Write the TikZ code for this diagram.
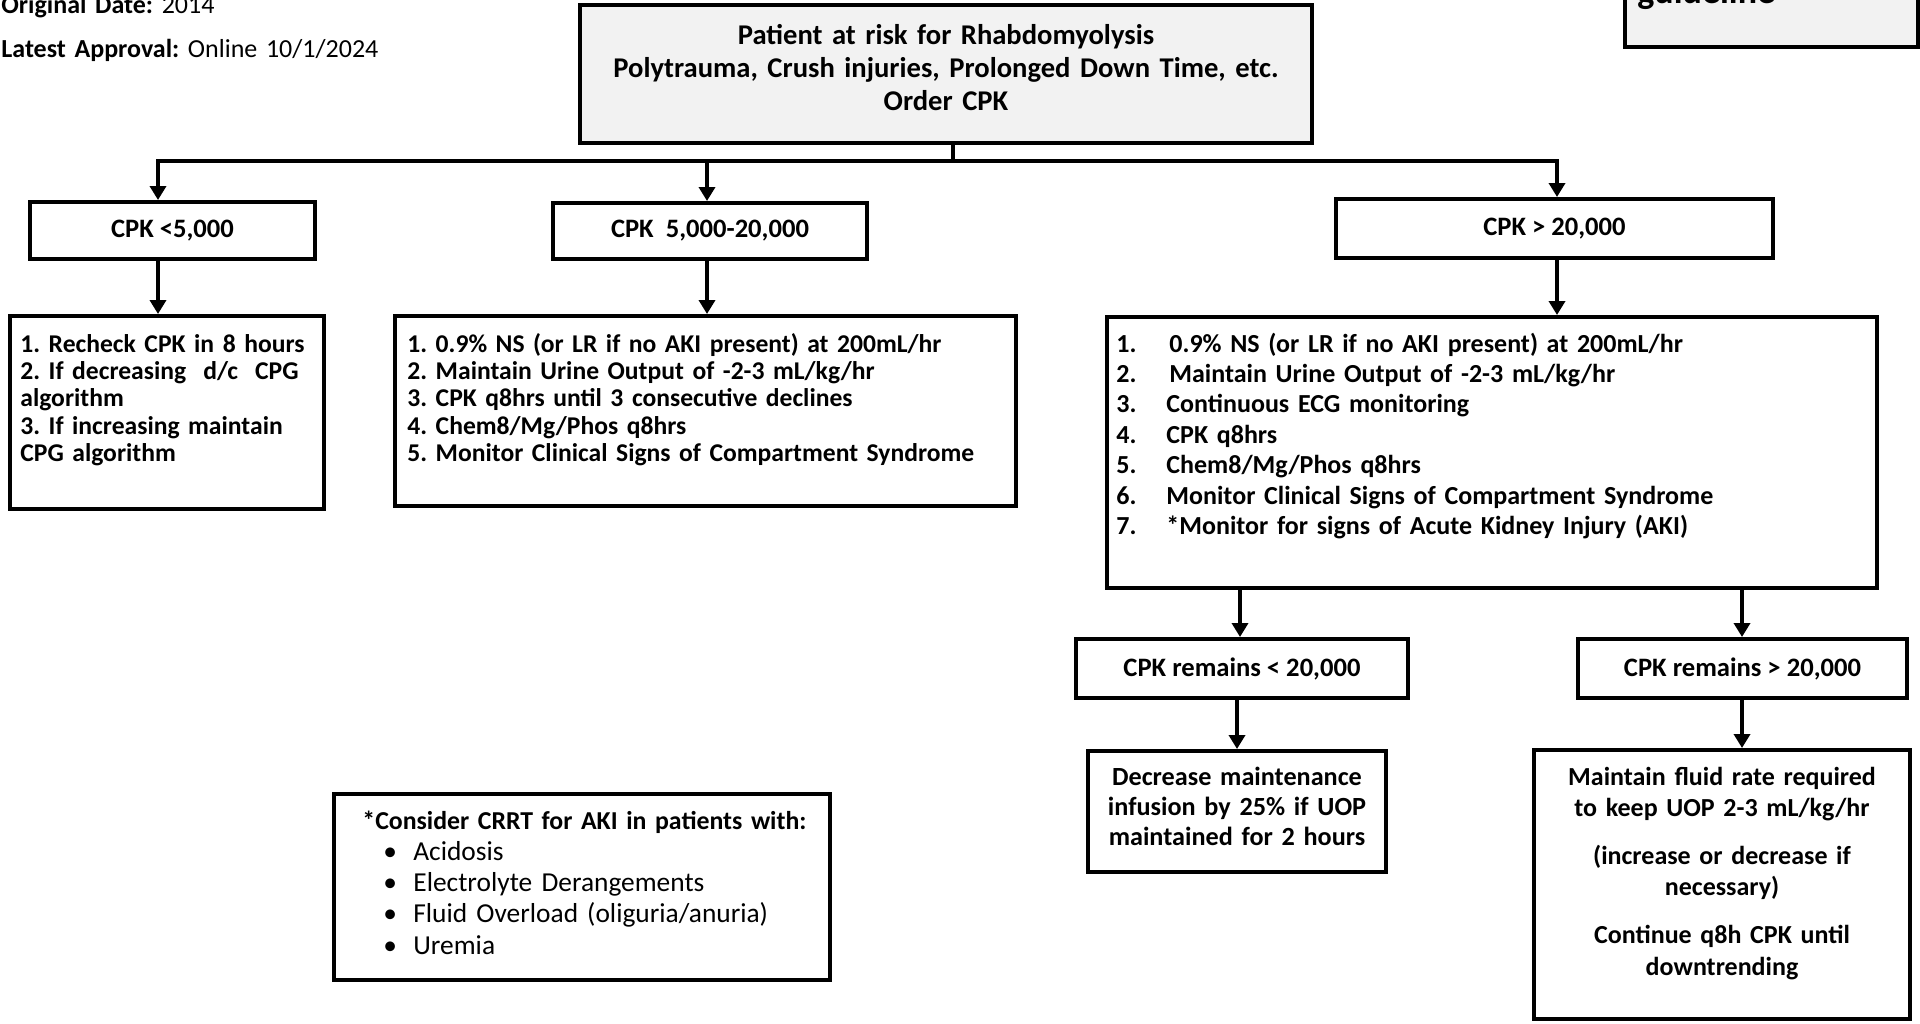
\documentclass[tikz,border=0pt]{standalone}
\usepackage{fontspec}
\setmainfont{Carlito}
\usetikzlibrary{arrows.meta,fit,positioning}
\definecolor{boxgray}{HTML}{F2F2F2}
\frenchspacing

\begin{document}
\begin{tikzpicture}[x=0.5pt, y=-0.5pt, >={Triangle[width=8pt,length=7pt]},
		box/.style={draw, line width=2pt, inner sep=0pt, fill=white},
		graybox/.style={box, fill=boxgray},
		level/.style={box, font=\fontsize{13.3}{15}\selectfont\bfseries},
		body/.style={font=\fontsize{12.8}{13.7}\selectfont\bfseries},
		ltext/.style={inner sep=0pt, anchor=base west, align=left, text width=#1},
		ctext/.style={inner sep=0pt, anchor=base, align=center, text width=#1},
		link/.style={line width=2pt},
		arr/.style={link, ->}]
	\useasboundingbox (0,0) rectangle (1920,1023);
	% ---------------- header ----------------
	\node[ltext=240pt, font=\fontsize{13}{14}\selectfont] (orig) at (1,13) {\textbf{Original Date:} 2014};
	\node[ltext=240pt, font=\fontsize{13}{14}\selectfont] (appr) at (1,57) {\textbf{Latest Approval:} Online 10/1/2024};
	\node[graybox, fit={(1625,-20) (1918,47)}] (guide) {};
	\node[ltext=140pt, font=\fontsize{18}{20}\selectfont\bfseries] (guidetxt) at (1637,3) {guideline};
	% ---------------- entry ----------------
	\node[graybox, fit={(580,5) (1312,143)}] (entry) {};
	\node[ctext=362pt, font=\fontsize{14.3}{16.5}\selectfont\bfseries] (entrytxt) at (946,44)
		{Patient at risk for Rhabdomyolysis\\Polytrauma, Crush injuries, Prolonged Down Time, etc.\\Order CPK};
	% ---------------- CPK levels ----------------
	\node[level, minimum width=142.5pt, minimum height=28.5pt] (low) at (172.5,230.5) {CPK <5,000};
	\node[level, minimum width=157pt, minimum height=28pt] (mid) at (710,231) {CPK~ 5,000-20,000};
	\node[level, minimum width=218.5pt, minimum height=29.5pt] (high) at (1554.5,228.5) {CPK > 20,000};
	% ---------------- orders ----------------
	\node[box, fit={(10,316) (324,509)}] (lowbox) {};
	\node[ltext=160pt, body] (lowtxt) at (20,352)
		{1. Recheck CPK in 8 hours\\2. If decreasing~ d/c~ CPG\\algorithm\\3. If increasing maintain\\CPG algorithm};
	\node[box, fit={(395,316) (1016,506)}] (midbox) {};
	\node[ltext=340pt, body] (midtxt) at (407,352)
		{1. 0.9\% NS (or LR if no AKI present) at 200mL/hr\\2. Maintain Urine Output of -2-3 mL/kg/hr\\3. CPK q8hrs until 3 consecutive declines\\4. Chem8/Mg/Phos q8hrs\\5. Monitor Clinical Signs of Compartment Syndrome};
	\node[box, fit={(1107,317) (1877,588)}] (highbox) {};
	\node[ltext=380pt, font=\fontsize{13}{15.2}\selectfont\bfseries] (hightxt) at (1116,352)
		{\makebox[25pt][l]{1.}\hspace{1.5pt}0.9\% NS (or LR if no AKI present) at 200mL/hr\\
		 \makebox[25pt][l]{2.}\hspace{1.5pt}Maintain Urine Output of -2-3 mL/kg/hr\\
		 \makebox[25pt][l]{3.}Continuous ECG monitoring\\
		 \makebox[25pt][l]{4.}CPK q8hrs\\
		 \makebox[25pt][l]{5.}Chem8/Mg/Phos q8hrs\\
		 \makebox[25pt][l]{6.}Monitor Clinical Signs of Compartment Syndrome\\
		 \makebox[25pt][l]{7.}*Monitor for signs of Acute Kidney Injury (AKI)};
	% ---------------- follow-up ----------------
	\node[level, minimum width=166pt, minimum height=29.5pt] (stayLow) at (1242,668.5) {CPK remains < 20,000};
	\node[level, minimum width=164.5pt, minimum height=29.5pt] (stayHigh) at (1742.5,668.5) {CPK remains > 20,000};
	\node[box, fit={(1088,751) (1386,872)}] (decr) {};
	\node[ctext=146pt, font=\fontsize{13.1}{15.1}\selectfont\bfseries] (decrtxt) at (1237,785)
		{Decrease maintenance\\infusion by 25\% if UOP\\maintained for 2 hours};
	\node[box, fit={(1534,750) (1910,1019)}] (keep) {};
	\node[ctext=186pt, font=\fontsize{13}{15.7}\selectfont\bfseries] (keeptxt) at (1722,785)
		{Maintain fluid rate required\\to keep UOP 2-3 mL/kg/hr\\[8.3pt](increase or decrease if\\necessary)\\[8.3pt]Continue q8h CPK until\\downtrending};
	% ---------------- CRRT note ----------------
	\node[box, fit={(334,794) (830,980)}] (crrt) {};
	\node[ltext=240pt, font=\fontsize{12.9}{14}\selectfont\bfseries] (crrttxt) at (362,829) {*Consider CRRT for AKI in patients with:};
	\node[ltext=220pt, font=\fontsize{13.7}{15.7}\selectfont] (crrtlist) at (383,860)
		{\makebox[15pt][l]{\textbullet}Acidosis\\\makebox[15pt][l]{\textbullet}Electrolyte Derangements\\
		 \makebox[15pt][l]{\textbullet}Fluid Overload (oliguria/anuria)\\\makebox[15pt][l]{\textbullet}Uremia};
	% ---------------- connectors ----------------
	\coordinate (jT) at (953,161);
	\coordinate (jL) at (158,161);
	\coordinate (jM) at (707,161);
	\coordinate (jR) at (1557,161);
	\coordinate (kL) at (1240,0);
	\coordinate (kD) at (1237,0);
	\coordinate (kR) at (1742,0);
	\draw[link] (entry.south -| jT) -- (jT);
	\draw[arr] (jT) -| (jL |- low.north);
	\draw[arr] (jT) -| (jR |- high.north);
	\draw[arr] (jM) -- (jM |- mid.north);
	\draw[arr] (low.south -| jL) -- (jL |- lowbox.north);
	\draw[arr] (mid.south -| jM) -- (jM |- midbox.north);
	\draw[arr] (high.south -| jR) -- (jR |- highbox.north);
	\draw[arr] (highbox.south -| kL) -- (kL |- stayLow.north);
	\draw[arr] (highbox.south -| kR) -- (kR |- stayHigh.north);
	\draw[arr] (stayLow.south -| kD) -- (kD |- decr.north);
	\draw[arr] (stayHigh.south -| kR) -- (kR |- keep.north);
\end{tikzpicture}
\end{document}
